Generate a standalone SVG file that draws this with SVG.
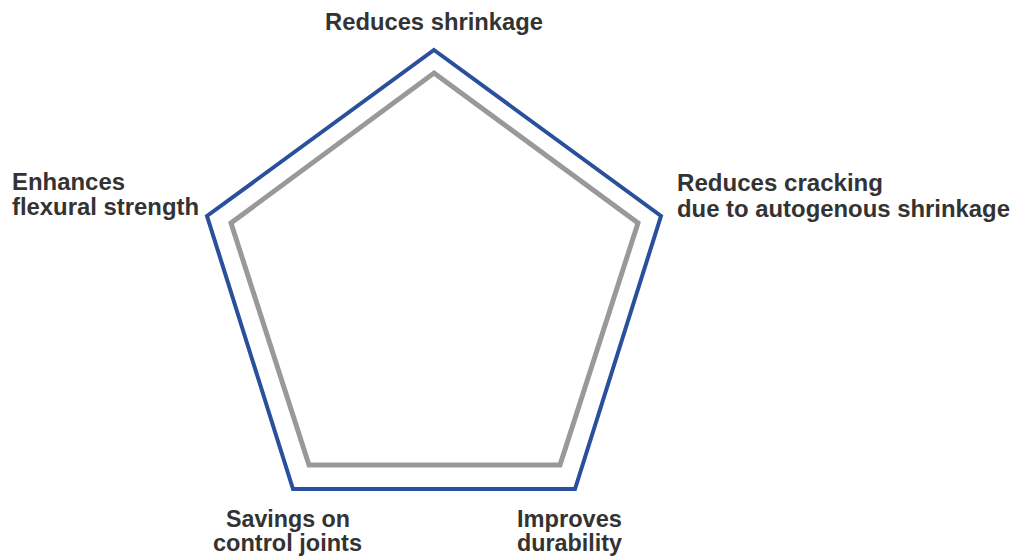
<svg xmlns="http://www.w3.org/2000/svg" width="1016" height="559" viewBox="0 0 1016 559">
<style>
.lbl{font-family:"Liberation Sans",Arial,sans-serif;font-weight:bold;font-size:23px;fill:#333333}
.outer{fill:none;stroke:#2a4f9c;stroke-width:4;stroke-linejoin:miter}
.inner{fill:none;stroke:#999999;stroke-width:5;stroke-linejoin:miter}
</style>
<rect width="1016" height="559" fill="#ffffff"/>
<g id="connectors">
<polygon class="outer" points="434,50 661,216 575,489 293,489 207,216"/>
<polygon class="inner" points="434,73 638,223 560,465 309,465 231,223"/>
</g>
<g id="node-top"><text class="lbl" x="325" y="30" textLength="218" lengthAdjust="spacingAndGlyphs">Reduces shrinkage</text></g>
<g id="node-left">
<text class="lbl" x="12" y="190" textLength="113" lengthAdjust="spacingAndGlyphs">Enhances</text>
<text class="lbl" x="12" y="215" textLength="187" lengthAdjust="spacingAndGlyphs">flexural strength</text>
</g>
<g id="node-right">
<text class="lbl" x="677" y="191" textLength="206" lengthAdjust="spacingAndGlyphs">Reduces cracking</text>
<text class="lbl" x="677" y="217" textLength="333" lengthAdjust="spacingAndGlyphs">due to autogenous shrinkage</text>
</g>
<g id="node-bottom-left">
<text class="lbl" x="226" y="527" textLength="124" lengthAdjust="spacingAndGlyphs">Savings on</text>
<text class="lbl" x="213" y="551" textLength="149" lengthAdjust="spacingAndGlyphs">control joints</text>
</g>
<g id="node-bottom-right">
<text class="lbl" x="517" y="527" textLength="105" lengthAdjust="spacingAndGlyphs">Improves</text>
<text class="lbl" x="517" y="551" textLength="105" lengthAdjust="spacingAndGlyphs">durability</text>
</g>
</svg>
